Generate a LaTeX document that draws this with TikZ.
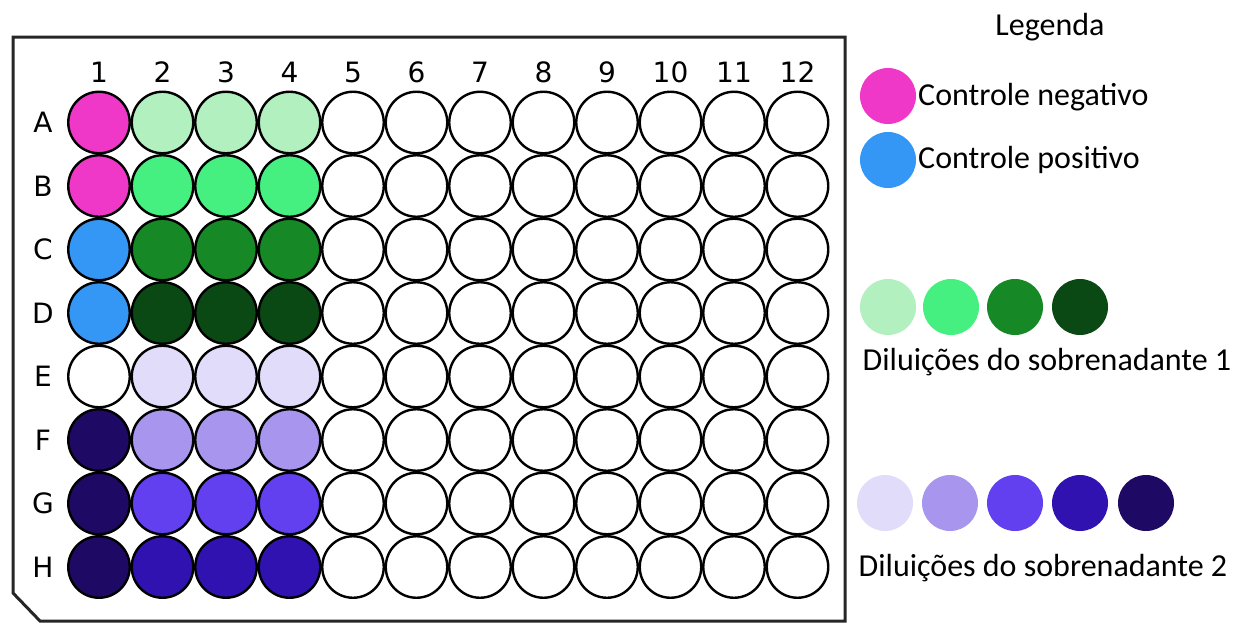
\documentclass[tikz,border=0pt]{standalone}
\usepackage{fontspec}
\setmainfont{Carlito}
\newfontfamily\platefont{DejaVu Sans}
\usetikzlibrary{positioning}

\definecolor{negctrl}{RGB}{240,56,200}
\definecolor{posctrl}{RGB}{52,150,245}
\definecolor{greenA}{RGB}{178,240,192}
\definecolor{greenB}{RGB}{70,240,128}
\definecolor{greenC}{RGB}{22,136,38}
\definecolor{greenD}{RGB}{10,72,20}
\definecolor{purpA}{RGB}{224,220,250}
\definecolor{purpB}{RGB}{168,150,238}
\definecolor{purpC}{RGB}{98,64,240}
\definecolor{purpD}{RGB}{48,18,176}
\definecolor{purpE}{RGB}{30,10,100}

\tikzset{
  well/.style={circle,draw=black,line width=2.4pt,minimum size=61.5pt,inner sep=0pt},
  legdot/.style={circle,minimum size=56pt,inner sep=0pt},
  platelbl/.style={font=\platefont\fontsize{28}{32}\selectfont},
  legtxt/.style={font=\fontsize{32}{37}\selectfont,inner sep=0pt}
}

\begin{document}
\begin{tikzpicture}[x=1pt,y=-1pt]
\useasboundingbox[fill=white] (0,0) rectangle (1241,624);

% plate outline with cut corner
\draw[line width=3pt,black!85] (13,37) -- (845,37) -- (845,621) -- (40,621) -- (13,593) -- cycle;

% column numbers
\foreach \c in {1,...,12}
  \node[platelbl] (col\c) at ({99+63.5*(\c-1)},72) {\c};

% rows: letter / column 1 / columns 2-4
\foreach \rl/\ca/\cb [count=\i from 0] in {A/negctrl/greenA,B/negctrl/greenB,C/posctrl/greenC,D/posctrl/greenD,
    E/white/purpA,F/purpE/purpB,G/purpE/purpC,H/purpE/purpD}{
  \begin{scope}[shift={(0,{122.5+63.5*\i})}]
    \node[platelbl] (row\rl) at (43,0) {\rl};
    \node[well,fill=\ca] (\rl1) at (99,0) {};
    \foreach \c in {2,3,4}
      \node[well,fill=\cb] (\rl\c) at ({99+63.5*(\c-1)},0) {};
    \foreach \c in {5,...,12}
      \node[well,fill=white] (\rl\c) at ({99+63.5*(\c-1)},0) {};
  \end{scope}
}

% legend
\node[legtxt] (legtitle) at (1050,27) {Legenda};
\node[legdot,fill=negctrl] (negdot) at (888,96) {};
\node[legtxt,anchor=west] (negtxt) at (918,97) {Controle negativo};
\node[legdot,fill=posctrl] (posdot) at (888,160) {};
\node[legtxt,anchor=west] (postxt) at (918,160) {Controle positivo};

\foreach \col/\x [count=\k] in {greenA/888,greenB/951,greenC/1015,greenD/1080}
  \node[legdot,fill=\col] (gdot\k) at (\x,307) {};
\node[legtxt] (sup1) at (1047,362) {Diluições do sobrenadante 1};

\foreach \col/\x [count=\k] in {purpA/885,purpB/950,purpC/1015,purpD/1080,purpE/1146}
  \node[legdot,fill=\col] (pdot\k) at (\x,503) {};
\node[legtxt] (sup2) at (1043,568) {Diluições do sobrenadante 2};
\end{tikzpicture}
\end{document}
